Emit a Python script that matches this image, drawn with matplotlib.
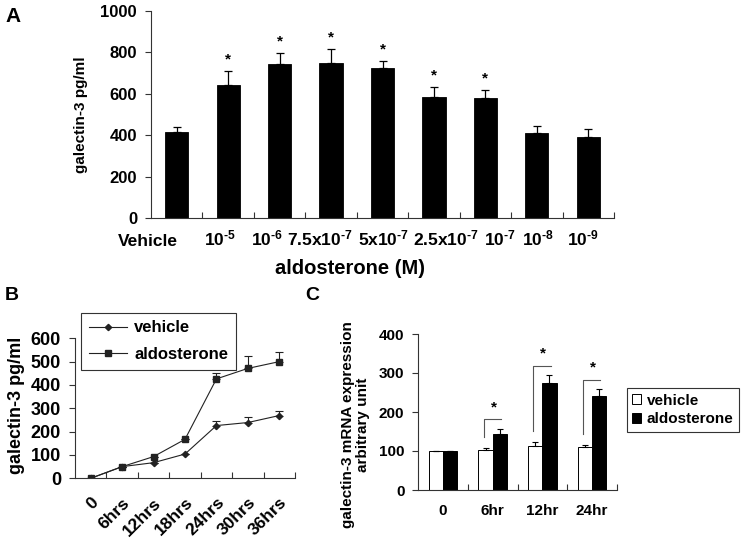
# -*- coding: utf-8 -*-
"""Galectin-3 response to aldosterone: dose (A), time course (B), mRNA (C)."""

import numpy as np
import matplotlib
matplotlib.use("Agg")
import matplotlib.pyplot as plt
from matplotlib.lines import Line2D
from matplotlib.transforms import ScaledTranslation

HY = "\u2010"  # short hyphen used in the exponents

# ---- panel A: dose response ----
conc_labels = ["Vehicle", "10$^{%s5}$" % HY, "10$^{%s6}$" % HY,
               "7.5x10$^{%s7}$" % HY, "5x10$^{%s7}$" % HY,
               "2.5x10$^{%s7}$" % HY, "10$^{%s7}$" % HY, "10$^{%s8}$" % HY,
               "10$^{%s9}$" % HY]
conc_mean = [417, 642, 744, 750, 723, 586, 581, 409, 393]
conc_err = [24, 69, 54, 65, 37, 48, 37, 37, 37]
conc_sig = [False, True, True, True, True, True, True, False, False]

# ---- panel B: time course ----
time_labels = ["0", "6hrs", "12hrs", "18hrs", "24hrs", "30hrs", "36hrs"]
veh_mean = [0, 50, 67, 104, 226, 239, 269]
veh_err = [0, 0, 0, 0, 21, 25, 21]
aldo_mean = [0, 50, 93, 167, 426, 471, 500]
aldo_err = [0, 0, 0, 0, 24, 53, 43]

# ---- panel C: mRNA expression ----
mrna_labels = ["0", "6hr", "12hr", "24hr"]
mrna_veh = [100, 103, 114, 109]
mrna_veh_err = [0, 5, 9, 6]
mrna_aldo = [100, 144, 274, 242]
mrna_aldo_err = [0, 12, 20, 16]
mrna_sig = [False, True, True, True]

plt.rcParams.update({
    "font.family": "Liberation Sans",
    "font.weight": "bold",
    "axes.labelweight": "bold",
    "mathtext.fontset": "custom",
    "mathtext.rm": "Liberation Sans:weight=bold",
    "mathtext.it": "Liberation Sans:weight=bold",
    "mathtext.bf": "Liberation Sans:weight=bold",
    "mathtext.default": "regular",
    "axes.linewidth": 0.8,
    "axes.edgecolor": "#333333",
    "xtick.color": "#333333",
    "ytick.color": "#333333",
    "xtick.labelcolor": "black",
    "ytick.labelcolor": "black",
})

W, H = 745, 546
fig = plt.figure(figsize=(W / 100, H / 100), dpi=100)


def px_axes(x0, y0, x1, y1):
    """Axes from pixel box (left, top, right, bottom)."""
    return fig.add_axes([x0 / W, 1 - y1 / H, (x1 - x0) / W, (y1 - y0) / H])


def style_axes(ax):
    for s in ("top", "right"):
        ax.spines[s].set_visible(False)
    ax.tick_params(axis="y", direction="out", length=4, width=0.8, pad=6)


# ================= A =================
ax_a = px_axes(151, 11, 614, 218)
style_axes(ax_a)
xa = np.arange(len(conc_mean))
ax_a.bar(xa, conc_mean, width=0.45, color="black", edgecolor="black",
         linewidth=0.6, zorder=2)
ax_a.errorbar(xa, conc_mean, yerr=[np.zeros(len(xa)), conc_err], fmt="none",
              ecolor="black", elinewidth=0.9, capsize=3.2, capthick=0.9,
              zorder=3)
for i, (m, e, s) in enumerate(zip(conc_mean, conc_err, conc_sig)):
    if s:
        ax_a.text(i, m + e + 55, "*", ha="center", va="center", fontsize=11)
ax_a.set_xlim(-0.5, len(xa) - 0.5)
ax_a.set_ylim(0, 1000)
ax_a.set_yticks(np.arange(0, 1001, 200))
ax_a.tick_params(axis="y", labelsize=12)
ax_a.set_xticks(xa, conc_labels)
ax_a.set_xticks(np.arange(0.5, len(xa), 1), minor=True)
ax_a.tick_params(axis="x", which="major", length=0, pad=20, labelsize=12.5)
ax_a.tick_params(axis="x", which="minor", direction="in", length=4, width=0.8)
# the original label row is packed by hand, not centred on each bar
shift_px = [-29, -8, -13, -11, 1, 12, 15, 1, -5]
for lbl, dx in zip(ax_a.get_xticklabels(), shift_px):
    lbl.set_va("baseline")
    lbl.set_transform(lbl.get_transform()
                      + ScaledTranslation(dx / 100, 0, fig.dpi_scale_trans))
ax_a.set_xlabel("aldosterone (M)", fontsize=14.5)
ax_a.xaxis.set_label_coords(0.43, -0.2)
ax_a.set_ylabel("galectin-3 pg/ml", fontsize=11)
ax_a.yaxis.set_label_coords(-0.135, 0.5)

# ================= B =================
ax_b = px_axes(75, 338.3, 295, 478.3)
style_axes(ax_b)
xb = np.arange(len(time_labels)) + 0.5
line_kw = dict(color="#222222", linewidth=0.8)
ax_b.plot(xb, veh_mean, marker="D", markersize=3.2, **line_kw)
ax_b.plot(xb, aldo_mean, marker="s", markersize=4.2, **line_kw)
for m, e in ((veh_mean, veh_err), (aldo_mean, aldo_err)):
    ax_b.errorbar(xb, m, yerr=[np.zeros(len(xb)), e], fmt="none",
                  ecolor="#222222", elinewidth=0.8, capsize=3, capthick=0.8)
ax_b.set_xlim(0, len(time_labels))
ax_b.set_ylim(0, 600)
ax_b.set_yticks(np.arange(0, 601, 100))
ax_b.tick_params(axis="y", labelsize=13)
ax_b.set_xticks(xb)
ax_b.set_xticklabels(time_labels, rotation=45, ha="right", va="top",
                     rotation_mode="anchor")
ax_b.set_xticks(np.arange(1, len(time_labels) + 1), minor=True)
ax_b.tick_params(axis="x", which="major", length=0, pad=12, labelsize=12.5)
ax_b.tick_params(axis="x", which="minor", direction="in", length=4, width=0.8)
ax_b.set_ylabel("galectin-3 pg/ml", fontsize=13)
ax_b.yaxis.set_label_coords(-0.225, 0.52)
handles_b = [
    Line2D([], [], marker="D", markersize=3.2, **line_kw),
    Line2D([], [], marker="s", markersize=4.2, **line_kw),
]
leg_b = ax_b.legend(handles_b, ["vehicle", "aldosterone"], loc="upper left",
                    bbox_to_anchor=(81 / W, 1 - 313 / H),
                    bbox_transform=fig.transFigure, borderaxespad=0,
                    fancybox=False, edgecolor="#333333", framealpha=1,
                    fontsize=12, handlelength=2.3, handletextpad=0.45,
                    borderpad=0.45, labelspacing=0.7)
leg_b.get_frame().set_linewidth(0.8)

# ================= C =================
ax_c = px_axes(418.3, 334, 616.7, 490)
style_axes(ax_c)
xc = np.arange(len(mrna_labels))
bw = 0.29
b_veh = ax_c.bar(xc - bw / 2, mrna_veh, width=bw, color="white",
                 edgecolor="black", linewidth=0.7, zorder=2)
b_aldo = ax_c.bar(xc + bw / 2, mrna_aldo, width=bw, color="black",
                  edgecolor="black", linewidth=0.7, zorder=2)
ax_c.errorbar(xc - bw / 2, mrna_veh,
              yerr=[np.zeros(len(xc)), mrna_veh_err], fmt="none",
              ecolor="black", elinewidth=0.8, capsize=2.5, capthick=0.8,
              zorder=3)
ax_c.errorbar(xc + bw / 2, mrna_aldo,
              yerr=[np.zeros(len(xc)), mrna_aldo_err], fmt="none",
              ecolor="black", elinewidth=0.8, capsize=2.5, capthick=0.8,
              zorder=3)
for i, s in enumerate(mrna_sig):
    if not s:
        continue
    lo = mrna_veh[i] + mrna_veh_err[i] + 28
    hi = mrna_aldo[i] + mrna_aldo_err[i] + 25
    ax_c.plot([i - 0.18, i - 0.18, i + 0.17], [lo, hi, hi],
              color="#555555", linewidth=0.8)
    ax_c.text(i + 0.02, hi + 30, "*", ha="center", va="center", fontsize=11)
ax_c.set_xlim(-0.5, len(xc) - 0.5)
ax_c.set_ylim(0, 400)
ax_c.set_yticks(np.arange(0, 401, 100))
ax_c.tick_params(axis="y", labelsize=11)
ax_c.set_xticks(xc, mrna_labels)
ax_c.set_xticks(np.arange(0.5, len(xc), 1), minor=True)
ax_c.tick_params(axis="x", which="major", length=0, pad=10, labelsize=11)
ax_c.tick_params(axis="x", which="minor", direction="in", length=4, width=0.8)
ax_c.set_ylabel("galectin-3 mRNA expression\narbitrary unit", fontsize=11,
                linespacing=1.05)
ax_c.yaxis.set_label_coords(-0.245, 0.42)
leg_c = ax_c.legend([b_veh, b_aldo], ["vehicle", "aldosterone"],
                    loc="upper left", bbox_to_anchor=(626.7 / W, 1 - 388.3 / H),
                    bbox_transform=fig.transFigure, borderaxespad=0,
                    fancybox=False, edgecolor="#333333", framealpha=1,
                    fontsize=11, handlelength=0.6, handleheight=0.6,
                    handletextpad=0.35, borderpad=0.35, labelspacing=0.3)
leg_c.get_frame().set_linewidth(0.8)

# panel letters
fig.text(5 / W, 1 - 17 / H, "A", fontsize=15, va="center")
fig.text(5 / W, 1 - 295 / H, "B", fontsize=14, va="center")
fig.text(305 / W, 1 - 296 / H, "C", fontsize=14, va="center")

fig.savefig("out.png", dpi=100)
